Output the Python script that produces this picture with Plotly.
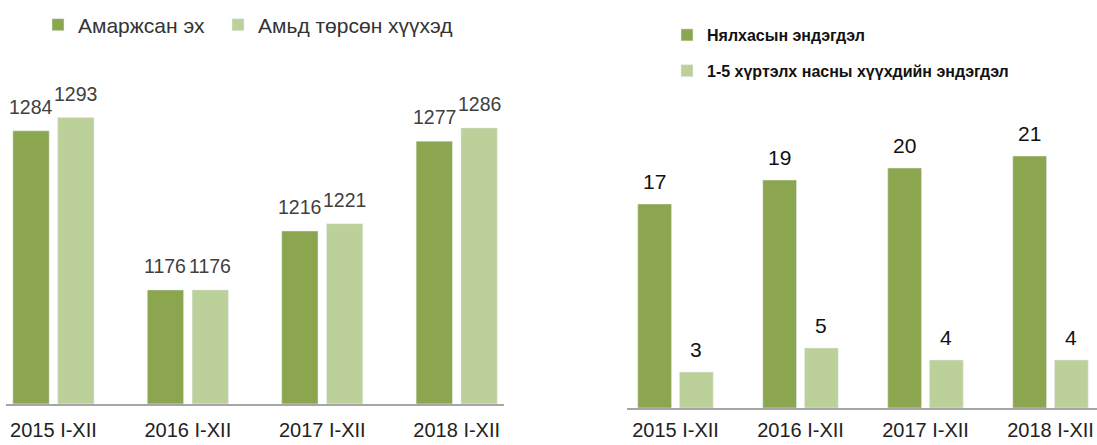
import plotly.graph_objects as go

W, H = 1097, 445

# ---- data ----
periods = ["2015 I-XII", "2016 I-XII", "2017 I-XII", "2018 I-XII"]
mothers = [1284, 1176, 1216, 1277]          # Амаржсан эх
live_births = [1293, 1176, 1221, 1286]      # Амьд төрсөн хүүхэд
infant_deaths = [17, 19, 20, 21]            # Нялхасын эндэгдэл
child_deaths = [3, 5, 4, 4]                 # 1-5 хүртэлх насны хүүхдийн эндэгдэл

names_left = ["Амаржсан эх", "Амьд төрсөн хүүхэд"]
names_right = ["Нялхасын эндэгдэл", "1-5 хүртэлх насны хүүхдийн эндэгдэл"]

DARK = "#8BA64F"
LIGHT = "#BCD09A"
FONT = "Liberation Sans, Arial, sans-serif"

fig = go.Figure()

# left chart
fig.add_trace(go.Bar(x=periods, y=mothers, name=names_left[0], marker_color=DARK,
                     xaxis="x", yaxis="y", legend="legend"))
fig.add_trace(go.Bar(x=periods, y=live_births, name=names_left[1], marker_color=LIGHT,
                     xaxis="x", yaxis="y", legend="legend3"))
# right chart
fig.add_trace(go.Bar(x=periods, y=infant_deaths, name=names_right[0], marker_color=DARK,
                     xaxis="x2", yaxis="y2", legend="legend2", legendgroup="a"))
fig.add_trace(go.Bar(x=periods, y=child_deaths, name=names_right[1], marker_color=LIGHT,
                     xaxis="x2", yaxis="y2", legend="legend2", legendgroup="b"))

# data labels
annotations = []
for vals, sh in ((mothers, -22.5), (live_births, 22.5)):
    for p, v in zip(periods, vals):
        annotations.append(dict(x=p, y=v, xref="x", yref="y", text=str(v),
                                showarrow=False, yanchor="bottom", xshift=sh, yshift=11,
                                font=dict(family=FONT, size=19.5, color="#404040")))
for vals, sh in ((infant_deaths, -20.75), (child_deaths, 20.75)):
    for p, v in zip(periods, vals):
        annotations.append(dict(x=p, y=v, xref="x2", yref="y2", text=str(v),
                                showarrow=False, yanchor="bottom", xshift=sh, yshift=9,
                                font=dict(family=FONT, size=21, color="#111111")))

axis_common = dict(showgrid=False, zeroline=False, showline=True, linecolor="#A6A6A6",
                   linewidth=1.5, ticks="", tickfont=dict(family=FONT, size=20, color="#222222"),
                   fixedrange=True, automargin=False)

legend_common = dict(bgcolor="rgba(0,0,0,0)", itemclick=False, itemdoubleclick=False)

fig.update_layout(
    width=W, height=H,
    margin=dict(l=0, r=0, t=0, b=0, autoexpand=False),
    paper_bgcolor="white", plot_bgcolor="white",
    barmode="group", bargap=0.333, bargroupgap=0.19,
    font=dict(family=FONT),
    xaxis=dict(domain=[6 / W, 504 / W], range=[-0.353, 3.352], anchor="y",
               ticklabelstandoff=8, **axis_common),
    yaxis=dict(domain=[(H - 403.7) / H, (H - 70) / H], range=[1098.8, 1325.3], anchor="x",
               visible=False, fixedrange=True, automargin=False),
    xaxis2=dict(domain=[627 / W, 1.0], range=[-0.388, 3.372], anchor="y2",
                ticklabelstandoff=3, **axis_common),
    yaxis2=dict(domain=[(H - 408) / H, (H - 100) / H], range=[0, 25.67], anchor="x2",
                visible=False, fixedrange=True, automargin=False),
    legend=dict(orientation="h", x=38 / W, xanchor="left", y=(H - 25) / H, yanchor="middle",
                font=dict(family=FONT, size=21, color="#333333"), **legend_common),
    legend3=dict(orientation="h", x=218 / W, xanchor="left", y=(H - 25) / H, yanchor="middle",
                 font=dict(family=FONT, size=21, color="#333333"), **legend_common),
    legend2=dict(orientation="v", x=667 / W, xanchor="left", y=(H - 53) / H, yanchor="middle",
                 font=dict(family=FONT, size=16, color="#111111", weight="bold"),
                 tracegroupgap=12, **legend_common),
    annotations=annotations,
    showlegend=True,
)

fig.write_html("out.html")
